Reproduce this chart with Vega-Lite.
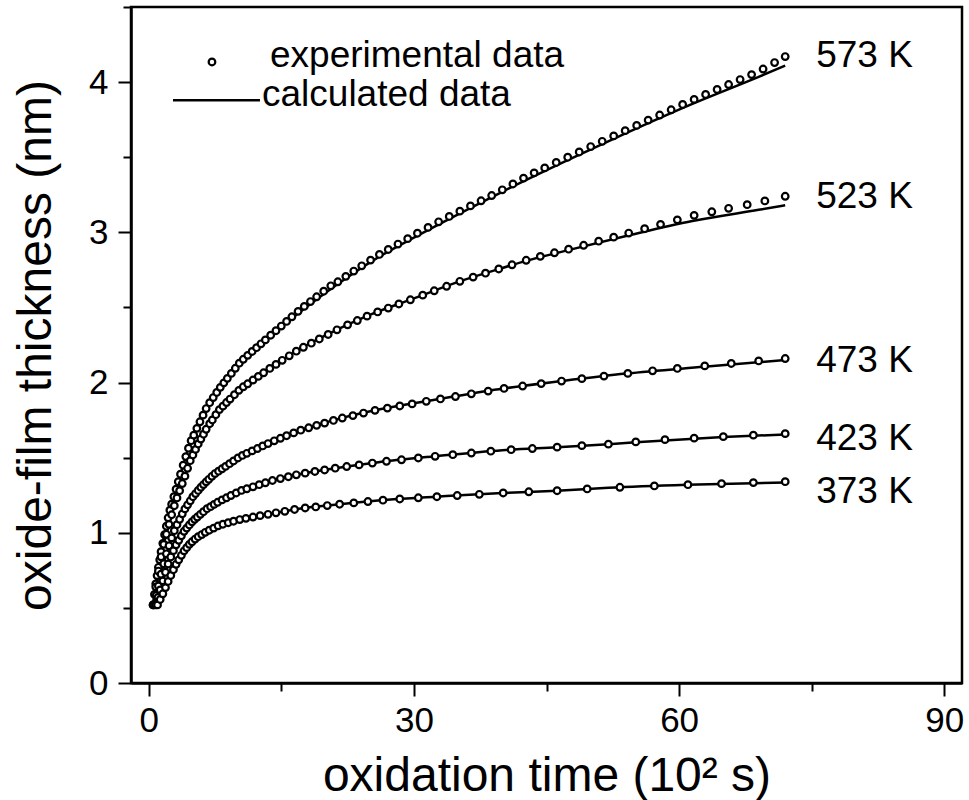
{
"$schema":"https://vega.github.io/schema/vega-lite/v6.json",
"width":831,"height":676,
"autosize":{"type":"none"},
"padding":{"left":131,"top":7,"right":7,"bottom":117},
"background":"white",
"config":{
 "font":"Liberation Sans",
 "view":{"stroke":"black","strokeWidth":2.5},
 "axis":{"domainColor":"black","domainWidth":2.5,"tickColor":"black","tickWidth":2,"labelColor":"black","titleColor":"black","labelFont":"Liberation Sans","titleFont":"Liberation Sans","labelFontSize":35,"titleFontSize":48,"titleFontWeight":"normal","grid":false}
},
"datasets":{
"calc":[
{"T":"573 K","t":0.5,"d":0.52},{"T":"573 K","t":0.8,"d":0.66},{"T":"573 K","t":1.35,"d":0.86},{"T":"573 K","t":2.3,"d":1.13},{"T":"573 K","t":2.85,"d":1.24},{"T":"573 K","t":4.0,"d":1.47},{"T":"573 K","t":4.7,"d":1.60},{"T":"573 K","t":6.6,"d":1.84},{"T":"573 K","t":8.0,"d":1.96},{"T":"573 K","t":10.4,"d":2.14},{"T":"573 K","t":14.1,"d":2.33},{"T":"573 K","t":17,"d":2.465},{"T":"573 K","t":21.6,"d":2.665},{"T":"573 K","t":26,"d":2.835},{"T":"573 K","t":30,"d":2.965},{"T":"573 K","t":35,"d":3.12},{"T":"573 K","t":40,"d":3.27},{"T":"573 K","t":47.4,"d":3.48},{"T":"573 K","t":54,"d":3.66},{"T":"573 K","t":61.5,"d":3.855},{"T":"573 K","t":69,"d":4.035},{"T":"573 K","t":72,"d":4.11},
{"T":"523 K","t":0.5,"d":0.52},{"T":"523 K","t":0.8,"d":0.64},{"T":"523 K","t":1.2,"d":0.78},{"T":"523 K","t":1.6,"d":0.90},{"T":"523 K","t":2.0,"d":0.99},{"T":"523 K","t":2.5,"d":1.10},{"T":"523 K","t":3,"d":1.20},{"T":"523 K","t":4,"d":1.36},{"T":"523 K","t":4.7,"d":1.48},{"T":"523 K","t":5.5,"d":1.58},{"T":"523 K","t":6.6,"d":1.70},{"T":"523 K","t":8,"d":1.82},{"T":"523 K","t":10.4,"d":1.96},{"T":"523 K","t":14.1,"d":2.11},{"T":"523 K","t":17,"d":2.22},{"T":"523 K","t":21.6,"d":2.36},{"T":"523 K","t":25,"d":2.45},{"T":"523 K","t":30,"d":2.56},{"T":"523 K","t":35,"d":2.67},{"T":"523 K","t":39.3,"d":2.75},{"T":"523 K","t":43,"d":2.815},{"T":"523 K","t":47,"d":2.875},{"T":"523 K","t":54,"d":2.975},{"T":"523 K","t":61.5,"d":3.075},{"T":"523 K","t":69,"d":3.15},{"T":"523 K","t":72,"d":3.18},
{"T":"473 K","t":0.6,"d":0.52},{"T":"473 K","t":1.0,"d":0.62},{"T":"473 K","t":1.5,"d":0.75},{"T":"473 K","t":2.0,"d":0.86},{"T":"473 K","t":2.5,"d":0.95},{"T":"473 K","t":3.0,"d":1.03},{"T":"473 K","t":4.0,"d":1.15},{"T":"473 K","t":5.0,"d":1.24},{"T":"473 K","t":6.0,"d":1.31},{"T":"473 K","t":7.4,"d":1.39},{"T":"473 K","t":10.4,"d":1.51},{"T":"473 K","t":14.1,"d":1.61},{"T":"473 K","t":17,"d":1.68},{"T":"473 K","t":21.6,"d":1.76},{"T":"473 K","t":26,"d":1.82},{"T":"473 K","t":32.9,"d":1.89},{"T":"473 K","t":40.1,"d":1.96},{"T":"473 K","t":46.7,"d":2.01},{"T":"473 K","t":54,"d":2.06},{"T":"473 K","t":62.8,"d":2.105},{"T":"473 K","t":72,"d":2.15},
{"T":"423 K","t":0.8,"d":0.52},{"T":"423 K","t":1.2,"d":0.60},{"T":"423 K","t":1.7,"d":0.70},{"T":"423 K","t":2.3,"d":0.81},{"T":"423 K","t":3.0,"d":0.91},{"T":"423 K","t":4.0,"d":1.01},{"T":"423 K","t":5.0,"d":1.08},{"T":"423 K","t":6.6,"d":1.16},{"T":"423 K","t":8.0,"d":1.21},{"T":"423 K","t":10.4,"d":1.28},{"T":"423 K","t":14.1,"d":1.35},{"T":"423 K","t":17,"d":1.39},{"T":"423 K","t":21.1,"d":1.43},{"T":"423 K","t":26,"d":1.47},{"T":"423 K","t":32.5,"d":1.51},{"T":"423 K","t":40,"d":1.55},{"T":"423 K","t":46.2,"d":1.57},{"T":"423 K","t":52,"d":1.59},{"T":"423 K","t":58.4,"d":1.615},{"T":"423 K","t":65,"d":1.637},{"T":"423 K","t":72,"d":1.655},
{"T":"373 K","t":1.0,"d":0.52},{"T":"373 K","t":1.5,"d":0.58},{"T":"373 K","t":2.3,"d":0.69},{"T":"373 K","t":3.0,"d":0.78},{"T":"373 K","t":4.0,"d":0.88},{"T":"373 K","t":4.7,"d":0.93},{"T":"373 K","t":5.5,"d":0.97},{"T":"373 K","t":6.6,"d":1.01},{"T":"373 K","t":8.0,"d":1.05},{"T":"373 K","t":10.4,"d":1.09},{"T":"373 K","t":14.1,"d":1.13},{"T":"373 K","t":17,"d":1.16},{"T":"373 K","t":21.6,"d":1.19},{"T":"373 K","t":27,"d":1.22},{"T":"373 K","t":32.5,"d":1.24},{"T":"373 K","t":40,"d":1.265},{"T":"373 K","t":46.2,"d":1.28},{"T":"373 K","t":52,"d":1.30},{"T":"373 K","t":60.9,"d":1.32},{"T":"373 K","t":72,"d":1.335}
],
"exp":[
{"T":"573 K","t":0.5,"d":0.52},{"T":"573 K","t":0.65,"d":0.59},{"T":"573 K","t":0.8,"d":0.66},{"T":"573 K","t":0.95,"d":0.715},{"T":"573 K","t":1.1,"d":0.77},{"T":"573 K","t":1.25,"d":0.82},{"T":"573 K","t":1.4,"d":0.874},{"T":"573 K","t":1.6,"d":0.93},{"T":"573 K","t":1.8,"d":0.987},{"T":"573 K","t":2.0,"d":1.044},{"T":"573 K","t":2.2,"d":1.10},{"T":"573 K","t":2.4,"d":1.15},{"T":"573 K","t":2.6,"d":1.19},{"T":"573 K","t":2.85,"d":1.24},{"T":"573 K","t":3.1,"d":1.29},{"T":"573 K","t":3.35,"d":1.34},{"T":"573 K","t":3.6,"d":1.39},{"T":"573 K","t":3.9,"d":1.45},{"T":"573 K","t":4.2,"d":1.507},{"T":"573 K","t":4.5,"d":1.563},{"T":"573 K","t":4.8,"d":1.613},{"T":"573 K","t":5.1,"d":1.65},{"T":"573 K","t":5.45,"d":1.695},{"T":"573 K","t":5.8,"d":1.739},{"T":"573 K","t":6.15,"d":1.783},{"T":"573 K","t":6.5,"d":1.827},{"T":"573 K","t":6.9,"d":1.866},{"T":"573 K","t":7.3,"d":1.90},{"T":"573 K","t":7.7,"d":1.934},{"T":"573 K","t":8.1,"d":1.968},{"T":"573 K","t":8.5,"d":1.998},{"T":"573 K","t":8.9,"d":2.028},{"T":"573 K","t":9.35,"d":2.061},{"T":"573 K","t":9.8,"d":2.095},{"T":"573 K","t":10.25,"d":2.129},{"T":"573 K","t":10.7,"d":2.155},{"T":"573 K","t":11.2,"d":2.181},{"T":"573 K","t":11.7,"d":2.207},{"T":"573 K","t":12.2,"d":2.232},{"T":"573 K","t":12.7,"d":2.258},{"T":"573 K","t":13.2,"d":2.284},{"T":"573 K","t":13.8,"d":2.315},{"T":"573 K","t":14.4,"d":2.345},{"T":"573 K","t":15.0,"d":2.376},{"T":"573 K","t":15.6,"d":2.407},{"T":"573 K","t":16.2,"d":2.438},{"T":"573 K","t":16.9,"d":2.474},{"T":"573 K","t":17.6,"d":2.507},{"T":"573 K","t":18.3,"d":2.539},{"T":"573 K","t":19.0,"d":2.571},{"T":"573 K","t":19.8,"d":2.608},{"T":"573 K","t":20.6,"d":2.644},{"T":"573 K","t":21.4,"d":2.671},{"T":"573 K","t":22.3,"d":2.707},{"T":"573 K","t":23.2,"d":2.742},{"T":"573 K","t":24.1,"d":2.777},{"T":"573 K","t":25.1,"d":2.815},{"T":"573 K","t":26.1,"d":2.853},{"T":"573 K","t":27.1,"d":2.886},{"T":"573 K","t":28.2,"d":2.922},{"T":"573 K","t":29.3,"d":2.958},{"T":"573 K","t":30.4,"d":2.994},{"T":"573 K","t":31.6,"d":3.033},{"T":"573 K","t":32.8,"d":3.07},{"T":"573 K","t":34.0,"d":3.106},{"T":"573 K","t":35.2,"d":3.141},{"T":"573 K","t":36.4,"d":3.176},{"T":"573 K","t":37.6,"d":3.21},{"T":"573 K","t":38.8,"d":3.245},{"T":"573 K","t":40.0,"d":3.283},{"T":"573 K","t":41.2,"d":3.322},{"T":"573 K","t":42.4,"d":3.361},{"T":"573 K","t":43.6,"d":3.396},{"T":"573 K","t":44.8,"d":3.429},{"T":"573 K","t":46.1,"d":3.465},{"T":"573 K","t":47.4,"d":3.50},{"T":"573 K","t":48.7,"d":3.535},{"T":"573 K","t":50.0,"d":3.571},{"T":"573 K","t":51.3,"d":3.606},{"T":"573 K","t":52.6,"d":3.642},{"T":"573 K","t":53.9,"d":3.677},{"T":"573 K","t":55.2,"d":3.712},{"T":"573 K","t":56.5,"d":3.747},{"T":"573 K","t":57.8,"d":3.781},{"T":"573 K","t":59.1,"d":3.816},{"T":"573 K","t":60.4,"d":3.851},{"T":"573 K","t":61.7,"d":3.885},{"T":"573 K","t":63.0,"d":3.918},{"T":"573 K","t":64.3,"d":3.951},{"T":"573 K","t":65.6,"d":3.984},{"T":"573 K","t":66.9,"d":4.017},{"T":"573 K","t":68.2,"d":4.05},{"T":"573 K","t":69.5,"d":4.087},{"T":"573 K","t":70.8,"d":4.13},{"T":"573 K","t":72.0,"d":4.17},
{"T":"523 K","t":0.5,"d":0.52},{"T":"523 K","t":0.8,"d":0.64},{"T":"523 K","t":1.1,"d":0.745},{"T":"523 K","t":1.4,"d":0.84},{"T":"523 K","t":1.7,"d":0.923},{"T":"523 K","t":2.0,"d":0.99},{"T":"523 K","t":2.3,"d":1.056},{"T":"523 K","t":2.6,"d":1.12},{"T":"523 K","t":2.9,"d":1.18},{"T":"523 K","t":3.2,"d":1.232},{"T":"523 K","t":3.5,"d":1.28},{"T":"523 K","t":3.8,"d":1.328},{"T":"523 K","t":4.1,"d":1.377},{"T":"523 K","t":4.4,"d":1.429},{"T":"523 K","t":4.7,"d":1.48},{"T":"523 K","t":5.0,"d":1.518},{"T":"523 K","t":5.3,"d":1.555},{"T":"523 K","t":5.6,"d":1.591},{"T":"523 K","t":5.9,"d":1.624},{"T":"523 K","t":6.2,"d":1.656},{"T":"523 K","t":6.5,"d":1.689},{"T":"523 K","t":6.9,"d":1.726},{"T":"523 K","t":7.2,"d":1.751},{"T":"523 K","t":7.6,"d":1.786},{"T":"523 K","t":8.0,"d":1.82},{"T":"523 K","t":8.4,"d":1.843},{"T":"523 K","t":8.8,"d":1.867},{"T":"523 K","t":9.2,"d":1.89},{"T":"523 K","t":9.7,"d":1.919},{"T":"523 K","t":10.2,"d":1.948},{"T":"523 K","t":10.7,"d":1.972},{"T":"523 K","t":11.2,"d":1.992},{"T":"523 K","t":11.8,"d":2.017},{"T":"523 K","t":12.4,"d":2.041},{"T":"523 K","t":13.0,"d":2.065},{"T":"523 K","t":13.7,"d":2.094},{"T":"523 K","t":14.4,"d":2.121},{"T":"523 K","t":15.1,"d":2.148},{"T":"523 K","t":15.9,"d":2.178},{"T":"523 K","t":16.7,"d":2.209},{"T":"523 K","t":17.5,"d":2.235},{"T":"523 K","t":18.4,"d":2.262},{"T":"523 K","t":19.3,"d":2.29},{"T":"523 K","t":20.3,"d":2.32},{"T":"523 K","t":21.3,"d":2.351},{"T":"523 K","t":22.5,"d":2.384},{"T":"523 K","t":23.6,"d":2.413},{"T":"523 K","t":24.7,"d":2.442},{"T":"523 K","t":25.9,"d":2.47},{"T":"523 K","t":27.1,"d":2.496},{"T":"523 K","t":28.3,"d":2.523},{"T":"523 K","t":29.6,"d":2.551},{"T":"523 K","t":31.0,"d":2.582},{"T":"523 K","t":32.3,"d":2.611},{"T":"523 K","t":33.7,"d":2.641},{"T":"523 K","t":35.2,"d":2.674},{"T":"523 K","t":36.7,"d":2.702},{"T":"523 K","t":38.1,"d":2.728},{"T":"523 K","t":39.6,"d":2.756},{"T":"523 K","t":41.1,"d":2.784},{"T":"523 K","t":42.7,"d":2.814},{"T":"523 K","t":44.3,"d":2.84},{"T":"523 K","t":45.9,"d":2.864},{"T":"523 K","t":47.5,"d":2.888},{"T":"523 K","t":49.2,"d":2.914},{"T":"523 K","t":50.9,"d":2.941},{"T":"523 K","t":52.6,"d":2.968},{"T":"523 K","t":54.3,"d":2.995},{"T":"523 K","t":56.1,"d":3.024},{"T":"523 K","t":57.9,"d":3.053},{"T":"523 K","t":59.8,"d":3.083},{"T":"523 K","t":61.7,"d":3.113},{"T":"523 K","t":63.7,"d":3.137},{"T":"523 K","t":65.6,"d":3.16},{"T":"523 K","t":67.7,"d":3.184},{"T":"523 K","t":69.7,"d":3.209},{"T":"523 K","t":72.0,"d":3.24},
{"T":"473 K","t":0.6,"d":0.52},{"T":"473 K","t":0.85,"d":0.583},{"T":"473 K","t":1.1,"d":0.646},{"T":"473 K","t":1.4,"d":0.724},{"T":"473 K","t":1.7,"d":0.794},{"T":"473 K","t":2.0,"d":0.86},{"T":"473 K","t":2.3,"d":0.914},{"T":"473 K","t":2.6,"d":0.966},{"T":"473 K","t":2.9,"d":1.014},{"T":"473 K","t":3.2,"d":1.054},{"T":"473 K","t":3.5,"d":1.09},{"T":"473 K","t":3.8,"d":1.126},{"T":"473 K","t":4.1,"d":1.159},{"T":"473 K","t":4.4,"d":1.186},{"T":"473 K","t":4.7,"d":1.213},{"T":"473 K","t":5.0,"d":1.24},{"T":"473 K","t":5.3,"d":1.261},{"T":"473 K","t":5.6,"d":1.282},{"T":"473 K","t":5.9,"d":1.303},{"T":"473 K","t":6.2,"d":1.321},{"T":"473 K","t":6.5,"d":1.339},{"T":"473 K","t":6.8,"d":1.356},{"T":"473 K","t":7.15,"d":1.376},{"T":"473 K","t":7.5,"d":1.394},{"T":"473 K","t":7.9,"d":1.41},{"T":"473 K","t":8.3,"d":1.426},{"T":"473 K","t":8.7,"d":1.442},{"T":"473 K","t":9.15,"d":1.46},{"T":"473 K","t":9.6,"d":1.478},{"T":"473 K","t":10.1,"d":1.498},{"T":"473 K","t":10.6,"d":1.515},{"T":"473 K","t":11.1,"d":1.529},{"T":"473 K","t":11.7,"d":1.545},{"T":"473 K","t":12.3,"d":1.561},{"T":"473 K","t":12.9,"d":1.578},{"T":"473 K","t":13.5,"d":1.594},{"T":"473 K","t":14.2,"d":1.612},{"T":"473 K","t":14.9,"d":1.629},{"T":"473 K","t":15.6,"d":1.646},{"T":"473 K","t":16.4,"d":1.665},{"T":"473 K","t":17.2,"d":1.683},{"T":"473 K","t":18.1,"d":1.699},{"T":"473 K","t":19.0,"d":1.715},{"T":"473 K","t":19.9,"d":1.73},{"T":"473 K","t":20.9,"d":1.748},{"T":"473 K","t":21.9,"d":1.764},{"T":"473 K","t":23.1,"d":1.78},{"T":"473 K","t":24.3,"d":1.797},{"T":"473 K","t":25.6,"d":1.815},{"T":"473 K","t":27.0,"d":1.83},{"T":"473 K","t":28.4,"d":1.844},{"T":"473 K","t":29.8,"d":1.858},{"T":"473 K","t":31.4,"d":1.875},{"T":"473 K","t":33.0,"d":1.891},{"T":"473 K","t":34.7,"d":1.907},{"T":"473 K","t":36.5,"d":1.925},{"T":"473 K","t":38.4,"d":1.943},{"T":"473 K","t":40.2,"d":1.961},{"T":"473 K","t":42.3,"d":1.977},{"T":"473 K","t":44.4,"d":1.993},{"T":"473 K","t":46.7,"d":2.01},{"T":"473 K","t":49.0,"d":2.026},{"T":"473 K","t":51.5,"d":2.043},{"T":"473 K","t":54.2,"d":2.061},{"T":"473 K","t":57.0,"d":2.078},{"T":"473 K","t":59.8,"d":2.094},{"T":"473 K","t":62.9,"d":2.111},{"T":"473 K","t":65.9,"d":2.127},{"T":"473 K","t":69.0,"d":2.144},{"T":"473 K","t":72.0,"d":2.16},
{"T":"423 K","t":0.8,"d":0.52},{"T":"423 K","t":1.05,"d":0.57},{"T":"423 K","t":1.3,"d":0.62},{"T":"423 K","t":1.6,"d":0.68},{"T":"423 K","t":1.9,"d":0.737},{"T":"423 K","t":2.2,"d":0.792},{"T":"423 K","t":2.5,"d":0.839},{"T":"423 K","t":2.8,"d":0.881},{"T":"423 K","t":3.1,"d":0.92},{"T":"423 K","t":3.4,"d":0.95},{"T":"423 K","t":3.7,"d":0.98},{"T":"423 K","t":4.0,"d":1.01},{"T":"423 K","t":4.3,"d":1.031},{"T":"423 K","t":4.6,"d":1.052},{"T":"423 K","t":4.9,"d":1.073},{"T":"423 K","t":5.2,"d":1.09},{"T":"423 K","t":5.5,"d":1.105},{"T":"423 K","t":5.85,"d":1.123},{"T":"423 K","t":6.2,"d":1.14},{"T":"423 K","t":6.6,"d":1.16},{"T":"423 K","t":7.0,"d":1.174},{"T":"423 K","t":7.4,"d":1.189},{"T":"423 K","t":7.8,"d":1.203},{"T":"423 K","t":8.3,"d":1.219},{"T":"423 K","t":8.8,"d":1.233},{"T":"423 K","t":9.3,"d":1.248},{"T":"423 K","t":9.9,"d":1.265},{"T":"423 K","t":10.5,"d":1.282},{"T":"423 K","t":11.1,"d":1.293},{"T":"423 K","t":11.8,"d":1.306},{"T":"423 K","t":12.5,"d":1.32},{"T":"423 K","t":13.2,"d":1.333},{"T":"423 K","t":14.0,"d":1.348},{"T":"423 K","t":14.9,"d":1.361},{"T":"423 K","t":15.8,"d":1.373},{"T":"423 K","t":16.7,"d":1.386},{"T":"423 K","t":17.7,"d":1.397},{"T":"423 K","t":18.8,"d":1.408},{"T":"423 K","t":19.9,"d":1.418},{"T":"423 K","t":21.1,"d":1.43},{"T":"423 K","t":22.4,"d":1.441},{"T":"423 K","t":23.8,"d":1.452},{"T":"423 K","t":25.3,"d":1.464},{"T":"423 K","t":26.9,"d":1.476},{"T":"423 K","t":28.6,"d":1.486},{"T":"423 K","t":30.5,"d":1.498},{"T":"423 K","t":32.4,"d":1.509},{"T":"423 K","t":34.4,"d":1.52},{"T":"423 K","t":36.5,"d":1.531},{"T":"423 K","t":38.7,"d":1.543},{"T":"423 K","t":41.0,"d":1.553},{"T":"423 K","t":43.4,"d":1.561},{"T":"423 K","t":46.2,"d":1.57},{"T":"423 K","t":49.0,"d":1.58},{"T":"423 K","t":52.0,"d":1.59},{"T":"423 K","t":55.1,"d":1.605},{"T":"423 K","t":58.4,"d":1.62},{"T":"423 K","t":61.7,"d":1.63},{"T":"423 K","t":65.0,"d":1.64},{"T":"423 K","t":68.4,"d":1.65},{"T":"423 K","t":72.0,"d":1.66},
{"T":"373 K","t":1.0,"d":0.52},{"T":"373 K","t":1.3,"d":0.556},{"T":"373 K","t":1.6,"d":0.594},{"T":"373 K","t":1.9,"d":0.635},{"T":"373 K","t":2.2,"d":0.676},{"T":"373 K","t":2.5,"d":0.716},{"T":"373 K","t":2.8,"d":0.754},{"T":"373 K","t":3.1,"d":0.79},{"T":"373 K","t":3.4,"d":0.82},{"T":"373 K","t":3.7,"d":0.85},{"T":"373 K","t":4.0,"d":0.88},{"T":"373 K","t":4.3,"d":0.901},{"T":"373 K","t":4.6,"d":0.923},{"T":"373 K","t":4.9,"d":0.94},{"T":"373 K","t":5.25,"d":0.958},{"T":"373 K","t":5.6,"d":0.974},{"T":"373 K","t":6.0,"d":0.988},{"T":"373 K","t":6.4,"d":1.003},{"T":"373 K","t":6.85,"d":1.017},{"T":"373 K","t":7.35,"d":1.031},{"T":"373 K","t":7.85,"d":1.046},{"T":"373 K","t":8.4,"d":1.057},{"T":"373 K","t":9.0,"d":1.067},{"T":"373 K","t":9.6,"d":1.077},{"T":"373 K","t":10.3,"d":1.088},{"T":"373 K","t":11.0,"d":1.096},{"T":"373 K","t":11.8,"d":1.105},{"T":"373 K","t":12.6,"d":1.114},{"T":"373 K","t":13.5,"d":1.123},{"T":"373 K","t":14.4,"d":1.133},{"T":"373 K","t":15.4,"d":1.143},{"T":"373 K","t":16.5,"d":1.155},{"T":"373 K","t":17.7,"d":1.165},{"T":"373 K","t":18.9,"d":1.172},{"T":"373 K","t":20.2,"d":1.181},{"T":"373 K","t":21.6,"d":1.19},{"T":"373 K","t":23.2,"d":1.199},{"T":"373 K","t":24.8,"d":1.208},{"T":"373 K","t":26.5,"d":1.217},{"T":"373 K","t":28.4,"d":1.225},{"T":"373 K","t":30.5,"d":1.233},{"T":"373 K","t":32.6,"d":1.24},{"T":"373 K","t":34.9,"d":1.248},{"T":"373 K","t":37.4,"d":1.256},{"T":"373 K","t":40.1,"d":1.265},{"T":"373 K","t":43.0,"d":1.273},{"T":"373 K","t":46.2,"d":1.28},{"T":"373 K","t":49.6,"d":1.292},{"T":"373 K","t":53.3,"d":1.303},{"T":"373 K","t":57.2,"d":1.312},{"T":"373 K","t":61.0,"d":1.32},{"T":"373 K","t":64.8,"d":1.327},{"T":"373 K","t":68.4,"d":1.334},{"T":"373 K","t":72.0,"d":1.34}
],
"labels":[
{"label":"573 K","t":75.5,"d":4.10},{"label":"523 K","t":75.5,"d":3.162},{"label":"473 K","t":75.5,"d":2.073},{"label":"423 K","t":75.5,"d":1.551},{"label":"373 K","t":75.5,"d":1.196}
],
"legendText":[
{"label":"experimental data","t":13.72,"d":4.103},{"label":"calculated data","t":12.82,"d":3.84}
]
},
"layer":[
{"data":{"name":"calc"},
 "mark":{"type":"line","color":"black","strokeWidth":2.5,"interpolate":"monotone"},
 "encoding":{
  "x":{"field":"t","type":"quantitative","scale":{"domain":[-2,92],"nice":false,"zero":false},
   "axis":{"title":"oxidation time (10² s)","values":[0,15,30,45,60,75,90],"labelExpr":"datum.value % 30 === 0 ? '' + datum.value : ''","tickSize":{"condition":{"test":"datum.value % 30 === 0","value":13},"value":8},"labelPadding":7,"titlePadding":14,"labelFlush":false}},
  "y":{"field":"d","type":"quantitative","scale":{"domain":[0,4.5],"nice":false,"zero":false},
   "axis":{"title":"oxide-film thickness (nm)","values":[0,0.5,1,1.5,2,2.5,3,3.5,4,4.5],"labelExpr":"datum.value % 1 === 0 ? '' + datum.value : ''","tickSize":{"condition":{"test":"datum.value % 1 === 0","value":13},"value":8},"labelPadding":10,"titlePadding":28,"labelFlush":false}},
  "detail":{"field":"T"}}},
{"data":{"name":"exp"},
 "mark":{"type":"point","shape":"circle","size":44,"filled":true,"fill":"white","fillOpacity":1,"stroke":"black","strokeWidth":2.2,"opacity":1},
 "encoding":{"x":{"field":"t","type":"quantitative"},"y":{"field":"d","type":"quantitative"}}},
{"data":{"name":"labels"},
 "mark":{"type":"text","align":"left","baseline":"alphabetic","fontSize":37,"font":"Liberation Sans","color":"black"},
 "encoding":{"x":{"field":"t","type":"quantitative"},"y":{"field":"d","type":"quantitative"},"text":{"field":"label"}}},
{"data":{"name":"legendText"},
 "mark":{"type":"text","align":"left","baseline":"alphabetic","fontSize":37,"font":"Liberation Sans","color":"black"},
 "encoding":{"x":{"field":"t","type":"quantitative"},"y":{"field":"d","type":"quantitative"},"text":{"field":"label"}}},
{"data":{"values":[{}]},
 "mark":{"type":"point","shape":"circle","size":44,"filled":true,"fill":"white","stroke":"black","strokeWidth":2.2,"opacity":1},
 "encoding":{"x":{"datum":7.16},"y":{"datum":4.134}}},
{"data":{"values":[{}]},
 "mark":{"type":"rule","color":"black","strokeWidth":2.5},
 "encoding":{"x":{"datum":2.75},"x2":{"datum":12.59},"y":{"datum":3.88}}}
]
}
